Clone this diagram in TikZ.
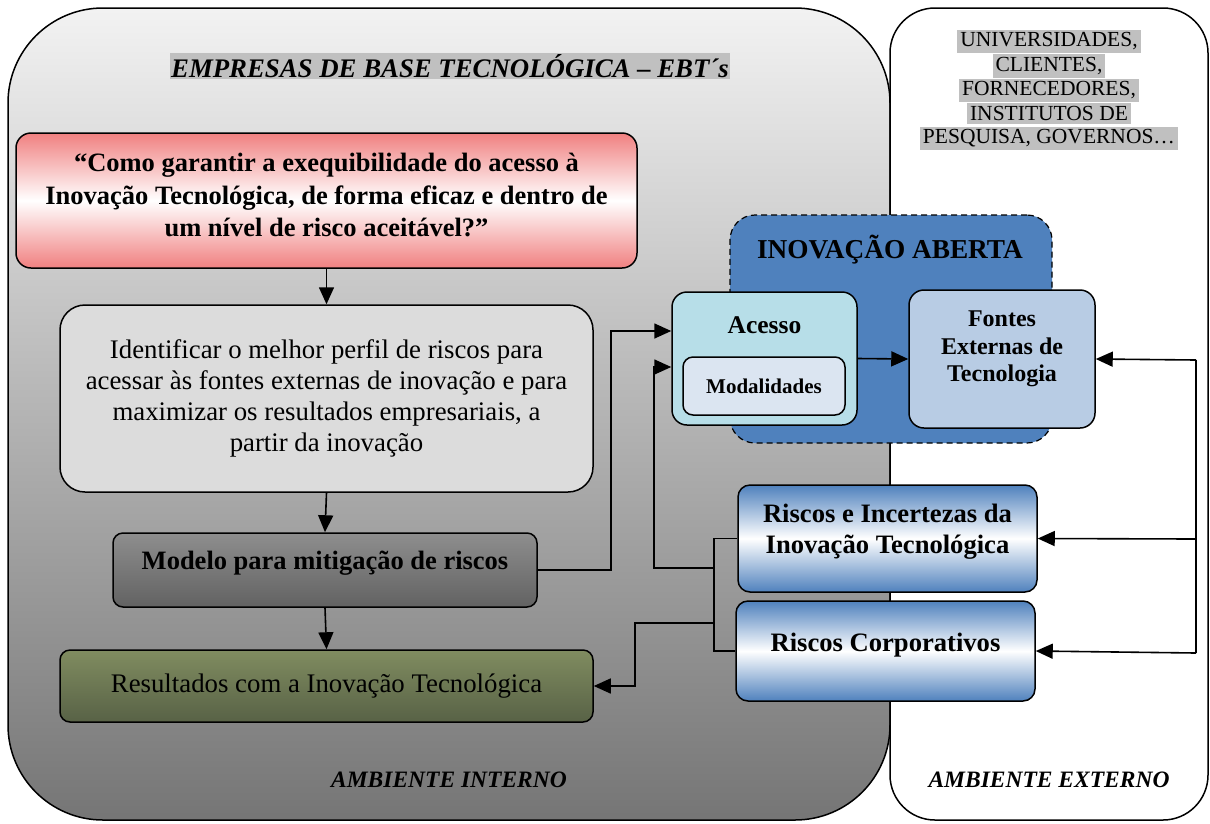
\documentclass[tikz,border=0pt]{standalone}
\usepackage{fontspec}
\setmainfont{Liberation Serif}
\usetikzlibrary{arrows.meta}
\definecolor{hlgray}{RGB}{192,192,192}
\definecolor{redend}{RGB}{240,128,128}
\definecolor{identfill}{RGB}{220,220,220}
\definecolor{modeltop}{RGB}{142,142,142}
\definecolor{modelbot}{RGB}{98,98,98}
\definecolor{restop}{RGB}{128,140,96}
\definecolor{resbot}{RGB}{88,98,70}
\definecolor{openblue}{RGB}{79,129,189}
\definecolor{acessofill}{RGB}{183,222,232}
\definecolor{modalfill}{RGB}{219,229,241}
\definecolor{fontesfill}{RGB}{184,204,228}
\begin{document}
\begin{tikzpicture}[x=1pt, y=-1pt,
box/.style={draw, line width=1.5pt, rectangle, align=center, inner sep=0pt},
riskbox/.style={box, rounded corners=12pt, top color=openblue, bottom color=openblue, middle color=white},
arr/.style={line width=1.6pt, -{Triangle[length=17pt,width=15pt]}},
link/.style={line width=1.6pt},
big/.style={font=\fontsize{26.8}{31}\selectfont},
bigbf/.style={font=\fontsize{26.5}{32.5}\selectfont\bfseries},
envlabel/.style={font=\fontsize{23.5}{26}\selectfont\bfseries\itshape},
]
\useasboundingbox (0,0) rectangle (1210,823);

%Ambients
\node[box, rounded corners=95pt, minimum width=882pt, minimum height=812pt,
      top color=black!5, bottom color=black!54] (intern) at (449,414) {};
\node[box, rounded corners=45pt, minimum width=318pt, minimum height=812pt, fill=white] (extern) at (1049,414) {};
\node[fill=hlgray, inner sep=1pt, font=\fontsize{26.8}{30}\selectfont\bfseries\itshape] (ebt) at (450,66) {EMPRESAS DE BASE TECNOLÓGICA -- EBT´s};
\node[align=center, inner sep=0pt, font=\fontsize{21.5}{23.5}\selectfont] (actors) at (1049,90)
  {\colorbox{hlgray}{UNIVERSIDADES,}\\ \colorbox{hlgray}{CLIENTES,}\\ \colorbox{hlgray}{FORNECEDORES,}\\
   \colorbox{hlgray}{INSTITUTOS DE}\\ \colorbox{hlgray}{PESQUISA, GOVERNOS…}};
\node[envlabel] (intlabel) at (449,780) {AMBIENTE INTERNO};
\node[envlabel] (extlabel) at (1049,780) {AMBIENTE EXTERNO};

%Nodes
\node[box, rounded corners=15pt, minimum width=621pt, minimum height=135pt,
      top color=redend, bottom color=redend, middle color=white] (quest) at (326.5,200.5) {};
\node[bigbf, align=center] (questtext) at (326.5,195)
  {“Como garantir a exequibilidade do acesso à\\ Inovação Tecnológica, de forma eficaz e dentro de\\ um nível de risco aceitável?”};
\node[box, big, rounded corners=25pt, minimum width=533pt, minimum height=187pt, fill=identfill] (ident) at (326.5,398.5)
  {Identificar o melhor perfil de riscos para\\ acessar às fontes externas de inovação e para\\ maximizar os resultados empresariais, a\\ partir da inovação};
\node[box, rounded corners=10pt, minimum width=424pt, minimum height=74pt,
      top color=modeltop, bottom color=modelbot] (model) at (325,570) {};
\node[bigbf] (modeltext) at (325,563) {Modelo para mitigação de riscos};
\node[box, big, rounded corners=10pt, minimum width=533pt, minimum height=72pt,
      top color=restop, bottom color=resbot] (result) at (326.5,686) {Resultados com a Inovação Tecnológica};

\node[box, line width=1.2pt, dash pattern=on 6pt off 4pt, rounded corners=25pt, minimum width=322pt, minimum height=228pt,
      fill=openblue] (open) at (891,329) {};
\node[font=\fontsize{27.3}{30}\selectfont\bfseries] (opentitle) at (890,250) {INOVAÇÃO ABERTA};
\node[box, rounded corners=15pt, minimum width=185pt, minimum height=133pt, fill=acessofill] (acesso) at (764.5,358.5) {};
\node[font=\fontsize{25.5}{28}\selectfont\bfseries] (acessotitle) at (764.5,325) {Acesso};
\node[box, rounded corners=10pt, minimum width=162pt, minimum height=58pt, fill=modalfill,
      font=\fontsize{21}{24}\selectfont\bfseries] (modal) at (764,386) {Modalidades};
\node[box, rounded corners=15pt, minimum width=186pt, minimum height=138pt, fill=fontesfill] (fontes) at (1002,359) {};
\node[align=center, font=\fontsize{24}{27.5}\selectfont\bfseries] (fontestext) at (1002,349) {Fontes\\ Externas de\\ Tecnologia};

\node[riskbox, minimum width=299pt, minimum height=107pt] (riscinc) at (887.5,538.5) {};
\node[align=center, font=\fontsize{26.6}{31}\selectfont\bfseries] (riscinctext) at (887.5,532) {Riscos e Incertezas da\\ Inovação Tecnológica};
\node[riskbox, minimum width=299pt, minimum height=100pt] (riscorp) at (885.5,651) {};
\node[font=\fontsize{26.6}{30}\selectfont\bfseries] (riscorptext) at (885.5,645) {Riscos Corporativos};

%Coordinates
\coordinate (busa) at (714,568);
\coordinate (busb) at (714,623);
\coordinate (ext1) at (1196,360);
\coordinate (ext2) at (1196,539);
\coordinate (ext3) at (1196,653);

%Lines
\draw[arr] (quest.south) -- (ident.north);
\draw[arr] (ident.south) -- (model.north);
\draw[arr] (model.south) -- (result.north);
\draw[arr] (model.east) -- (611,570) |- ([yshift=27.5pt]acesso.west);
\draw[arr] (acesso.east) -- (fontes.west);
\draw[link] (riscinc.west) -- (714,538.5) |- (riscorp.west);
\draw[arr] (busa) -- (654,568) |- ([yshift=-8.5pt]acesso.west);
\draw[arr] (busb) -- (635,623) |- (result.east);
\draw[link] (ext1) -- (ext3);
\draw[arr] (ext1) -- (fontes.east);
\draw[arr] (ext2) -- (riscinc.east);
\draw[arr] (ext3) -- (riscorp.east);
\end{tikzpicture}
\end{document}
